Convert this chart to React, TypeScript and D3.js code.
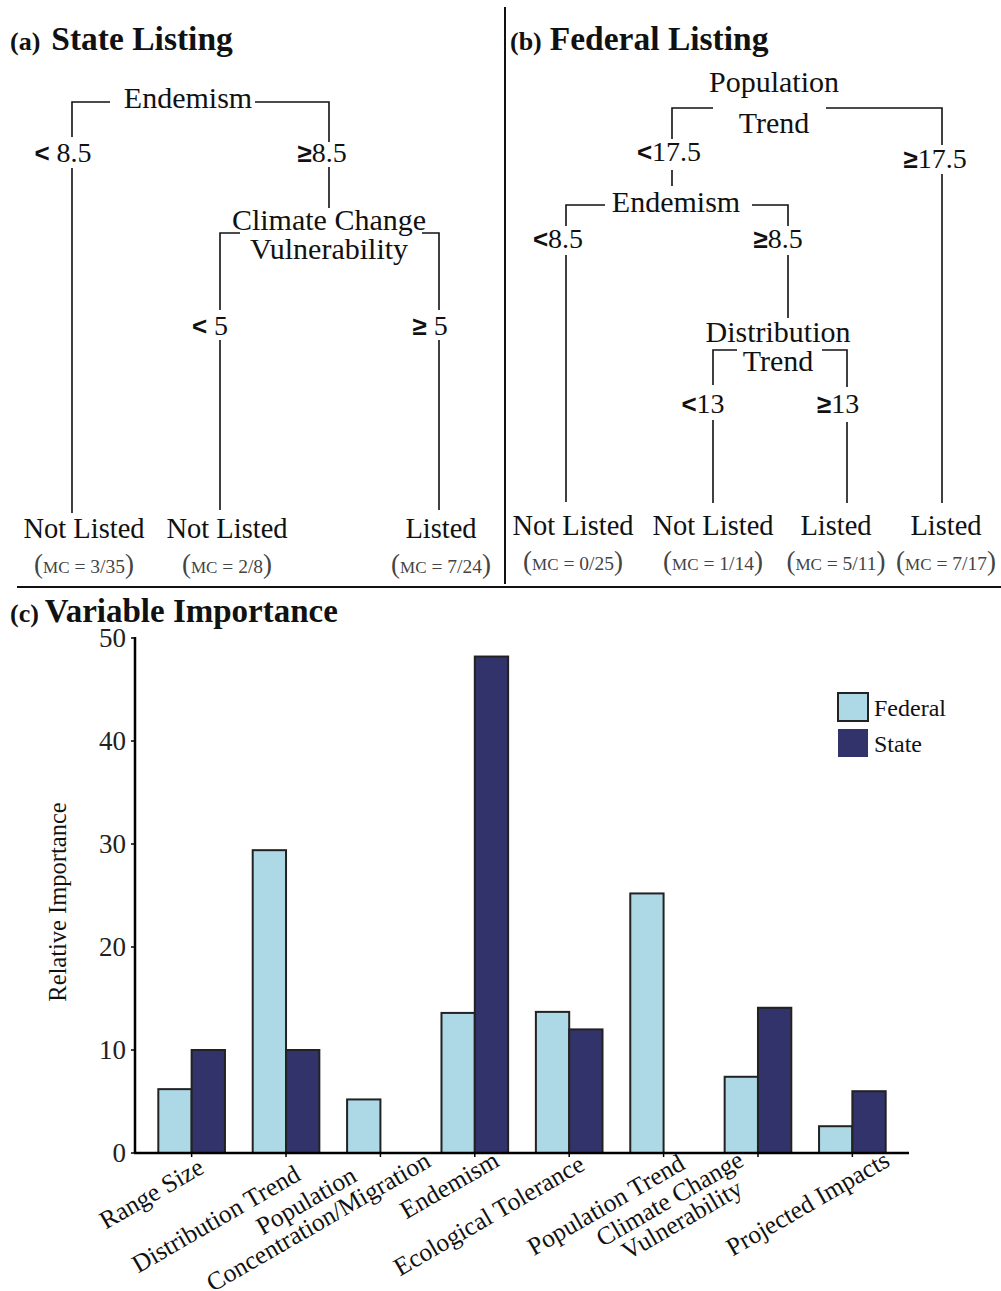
import React from "react";
import * as d3 from "d3";

// ---------------- DATA ----------------
const categories = [
  "Range Size",
  "Distribution Trend",
  "Population|Concentration/Migration",
  "Endemism",
  "Ecological Tolerance",
  "Population Trend",
  "Climate Change|Vulnerability",
  "Projected Impacts",
];
const federalValues = [6.2, 29.4, 5.2, 13.6, 13.7, 25.2, 7.4, 2.6];
const stateValues = [10, 10, 0, 48.2, 12, 0, 14.1, 6];
const seriesNames = ["Federal", "State"];
const yTickValues = [0, 10, 20, 30, 40, 50];

const stateSplitNames = [["Endemism"], ["Climate Change", "Vulnerability"]];
const stateSplitConds = [
  [["<", " 8.5"], ["≥", "8.5"]],
  [["<", " 5"], ["≥", " 5"]],
];
const stateLeafLabels = ["Not Listed", "Not Listed", "Listed"];
const stateLeafMC = ["3/35", "2/8", "7/24"];

const federalSplitNames = [["Population", "Trend"], ["Endemism"], ["Distribution", "Trend"]];
const federalSplitConds = [
  [["<", "17.5"], ["≥", "17.5"]],
  [["<", "8.5"], ["≥", "8.5"]],
  [["<", "13"], ["≥", "13"]],
];
const federalLeafLabels = ["Not Listed", "Not Listed", "Listed", "Listed"];
const federalLeafMC = ["0/25", "1/14", "5/11", "7/17"];

// ---------------- STYLE ----------------
const SERIF = "'Liberation Serif', 'DejaVu Serif', serif";
const SANS = "'Liberation Sans', 'DejaVu Sans', sans-serif";
const FED_COLOR = "#add8e6";
const STATE_COLOR = "#33336b";

// ---------------- TREE LAYOUT ----------------
type Branch = { condX: number; condY: number; gapTop: number; gapBottom: number; endY: number };
type SplitLayout = {
  textX: number; textYs: number[]; bracketY: number; leftX: number; rightX: number;
  gapL: number; gapR: number; left: Branch; right: Branch;
};

const stateSplitLayout: SplitLayout[] = [
  {
    textX: 188, textYs: [108], bracketY: 102, leftX: 72, rightX: 329, gapL: 110, gapR: 255,
    left: { condX: 63, condY: 162, gapTop: 137, gapBottom: 168, endY: 513 },
    right: { condX: 322, condY: 162, gapTop: 142, gapBottom: 167, endY: 208 },
  },
  {
    textX: 329, textYs: [230, 259], bracketY: 233, leftX: 220, rightX: 439, gapL: 240, gapR: 422,
    left: { condX: 210, condY: 335, gapTop: 310, gapBottom: 340, endY: 510 },
    right: { condX: 430, condY: 335, gapTop: 310, gapBottom: 340, endY: 510 },
  },
];
const stateLeafX = [84, 227, 441];
const stateLeafY = 538;
const stateMCY = 573;

const federalSplitLayout: SplitLayout[] = [
  {
    textX: 774, textYs: [92, 133], bracketY: 108, leftX: 672, rightX: 942, gapL: 713, gapR: 826,
    left: { condX: 669, condY: 161, gapTop: 139, gapBottom: 170, endY: 186 },
    right: { condX: 935, condY: 168, gapTop: 145, gapBottom: 174, endY: 503 },
  },
  {
    textX: 676, textYs: [212], bracketY: 205, leftX: 566, rightX: 788, gapL: 605, gapR: 752,
    left: { condX: 558, condY: 248, gapTop: 226, gapBottom: 255, endY: 502 },
    right: { condX: 778, condY: 248, gapTop: 226, gapBottom: 255, endY: 318 },
  },
  {
    textX: 778, textYs: [342, 371], bracketY: 350, leftX: 713, rightX: 847, gapL: 737, gapR: 822,
    left: { condX: 703, condY: 413, gapTop: 385, gapBottom: 420, endY: 503 },
    right: { condX: 838, condY: 413, gapTop: 387, gapBottom: 422, endY: 503 },
  },
];
const federalLeafX = [573, 713, 836, 946];
const federalLeafY = 535;
const federalMCY = 570;

function CondLabel({ x, y, parts }: { x: number; y: number; parts: string[] }) {
  return (
    <text x={x} y={y} textAnchor="middle" fontFamily={SERIF} fontSize={28} fill="#111">
      <tspan fontFamily={SANS} fontSize={26} fontWeight="bold">{parts[0]}</tspan>
      <tspan>{parts[1]}</tspan>
    </text>
  );
}

function Split({ L, names, conds }: { L: SplitLayout; names: string[]; conds: string[][] }) {
  const p = d3.path();
  p.moveTo(L.leftX, L.left.gapTop);
  p.lineTo(L.leftX, L.bracketY);
  p.lineTo(L.gapL, L.bracketY);
  p.moveTo(L.gapR, L.bracketY);
  p.lineTo(L.rightX, L.bracketY);
  p.lineTo(L.rightX, L.right.gapTop);
  p.moveTo(L.leftX, L.left.gapBottom);
  p.lineTo(L.leftX, L.left.endY);
  p.moveTo(L.rightX, L.right.gapBottom);
  p.lineTo(L.rightX, L.right.endY);
  return (
    <g>
      <path d={p.toString()} fill="none" stroke="#111" strokeWidth={1.6} />
      {names.map((n, i) => (
        <text key={i} x={L.textX} y={L.textYs[i]} textAnchor="middle" fontFamily={SERIF} fontSize={30} fill="#111">
          {n}
        </text>
      ))}
      <CondLabel x={L.left.condX} y={L.left.condY} parts={conds[0]} />
      <CondLabel x={L.right.condX} y={L.right.condY} parts={conds[1]} />
    </g>
  );
}

function Leaf({ x, y, mcY, label, mc }: { x: number; y: number; mcY: number; label: string; mc: string }) {
  return (
    <g>
      <text x={x} y={y} textAnchor="middle" fontFamily={SERIF} fontSize={28.5} fill="#111">{label}</text>
      <text x={x} y={mcY} textAnchor="middle" fontFamily={SERIF} fill="#444">
        <tspan fontSize={27}>(</tspan>
        <tspan fontSize={17}>MC</tspan>
        <tspan fontSize={19.5}>{" = " + mc}</tspan>
        <tspan fontSize={27}>)</tspan>
      </text>
    </g>
  );
}

// ---------------- BAR LAYOUT ----------------
const X0 = 135, X1 = 909, Y0 = 1153, Y1 = 638;
const labelPlacement = [
  { anchor: "end", dx: 14, dy: 19 },
  { anchor: "end", dx: 16, dy: 26 },
  { anchor: "middle", dx: -70, dy: 55 },
  { anchor: "end", dx: 26, dy: 12 },
  { anchor: "end", dx: 17, dy: 16 },
  { anchor: "end", dx: 23, dy: 15 },
  { anchor: "middle", dx: -84, dy: 53 },
  { anchor: "end", dx: 39, dy: 12 },
];

export default function App() {
  const x = d3.scaleBand<string>().domain(categories).range([X0, X1]).paddingInner(0).paddingOuter(0.1);
  const y = d3.scaleLinear().domain([0, 50]).range([Y0, Y1]);
  const bw = x.bandwidth();
  const x1 = d3.scaleBand<string>().domain(seriesNames).range([bw * 0.147, bw * 0.853]).padding(0);
  const seriesValues = [federalValues, stateValues];
  const colors = [FED_COLOR, STATE_COLOR];

  return (
    <div>
      <style>{`body{margin:0}`}</style>
      <svg width={1001} height={1291} style={{ display: "block", background: "#fff" }}>
        {/* panel dividers */}
        <line x1={505} y1={7} x2={505} y2={584} stroke="#111" strokeWidth={2} />
        <line x1={17} y1={587} x2={1001} y2={587} stroke="#111" strokeWidth={2} />

        {/* titles */}
        <text x={10} y={50} fontFamily={SERIF} fontWeight="bold" fill="#111">
          <tspan fontSize={26}>(a)</tspan>
          <tspan fontSize={33.5} dx={11}>State Listing</tspan>
        </text>
        <text x={510} y={50} fontFamily={SERIF} fontWeight="bold" fill="#111">
          <tspan fontSize={26}>(b)</tspan>
          <tspan fontSize={33.5} dx={8}>Federal Listing</tspan>
        </text>
        <text x={10} y={622} fontFamily={SERIF} fontWeight="bold" fill="#111">
          <tspan fontSize={26}>(c)</tspan>
          <tspan fontSize={33} dx={6}>Variable Importance</tspan>
        </text>

        {/* state tree */}
        {stateSplitLayout.map((L, i) => (
          <Split key={i} L={L} names={stateSplitNames[i]} conds={stateSplitConds[i]} />
        ))}
        {stateLeafLabels.map((l, i) => (
          <Leaf key={i} x={stateLeafX[i]} y={stateLeafY} mcY={stateMCY} label={l} mc={stateLeafMC[i]} />
        ))}

        {/* federal tree */}
        {federalSplitLayout.map((L, i) => (
          <Split key={i} L={L} names={federalSplitNames[i]} conds={federalSplitConds[i]} />
        ))}
        {federalLeafLabels.map((l, i) => (
          <Leaf key={i} x={federalLeafX[i]} y={federalLeafY} mcY={federalMCY} label={l} mc={federalLeafMC[i]} />
        ))}

        {/* bars */}
        {categories.map((c, ci) => (
          <g key={c} transform={`translate(${x(c)},0)`}>
            {seriesNames.map((s, si) => {
              const v = seriesValues[si][ci];
              if (!(v > 0)) return null;
              return (
                <rect
                  key={s}
                  x={x1(s)}
                  y={y(v)}
                  width={x1.bandwidth()}
                  height={Y0 - y(v)}
                  fill={colors[si]}
                  stroke="#222"
                  strokeWidth={2}
                />
              );
            })}
          </g>
        ))}

        {/* axes */}
        <line x1={X0} y1={Y1 - 1} x2={X0} y2={Y0} stroke="#000" strokeWidth={2.5} />
        <line x1={X0 - 1} y1={Y0} x2={X1} y2={Y0} stroke="#000" strokeWidth={2.5} />
        {yTickValues.map((t) => (
          <g key={t}>
            <line x1={X0 - 4} x2={X0} y1={y(t)} y2={y(t)} stroke="#000" strokeWidth={1.5} />
            <text x={X0 - 9} y={y(t)} dy="0.35em" textAnchor="end" fontFamily={SERIF} fontSize={27} fill="#222">
              {t}
            </text>
          </g>
        ))}
        {categories.map((c, i) => {
          const cx = (x(c) as number) + bw / 2;
          const lp = labelPlacement[i];
          const lines = c.split("|");
          return (
            <g key={c}>
              <line x1={cx} x2={cx} y1={Y0} y2={Y0 + 4} stroke="#000" strokeWidth={1.5} />
              <text
                transform={`translate(${cx + lp.dx},${Y0 + lp.dy}) rotate(-30)`}
                textAnchor={lp.anchor}
                fontFamily={SERIF}
                fontSize={25.5}
                fill="#111"
              >
                {lines.map((ln, k) => (
                  <tspan key={k} x={0} dy={k === 0 ? 0 : "0.95em"}>{ln}</tspan>
                ))}
              </text>
            </g>
          );
        })}
        <text
          transform={`translate(66,902) rotate(-90)`}
          textAnchor="middle"
          fontFamily={SERIF}
          fontSize={24.5}
          fill="#111"
        >
          Relative Importance
        </text>

        {/* legend */}
        {seriesNames.map((s, i) => (
          <g key={s} transform={`translate(838,${693 + i * 36})`}>
            <rect width={30} height={28} fill={colors[i]} stroke={i === 0 ? "#222" : "none"} strokeWidth={2} />
            <text x={36} y={23} fontFamily={SERIF} fontSize={24} fill="#111">{s}</text>
          </g>
        ))}
      </svg>
    </div>
  );
}
